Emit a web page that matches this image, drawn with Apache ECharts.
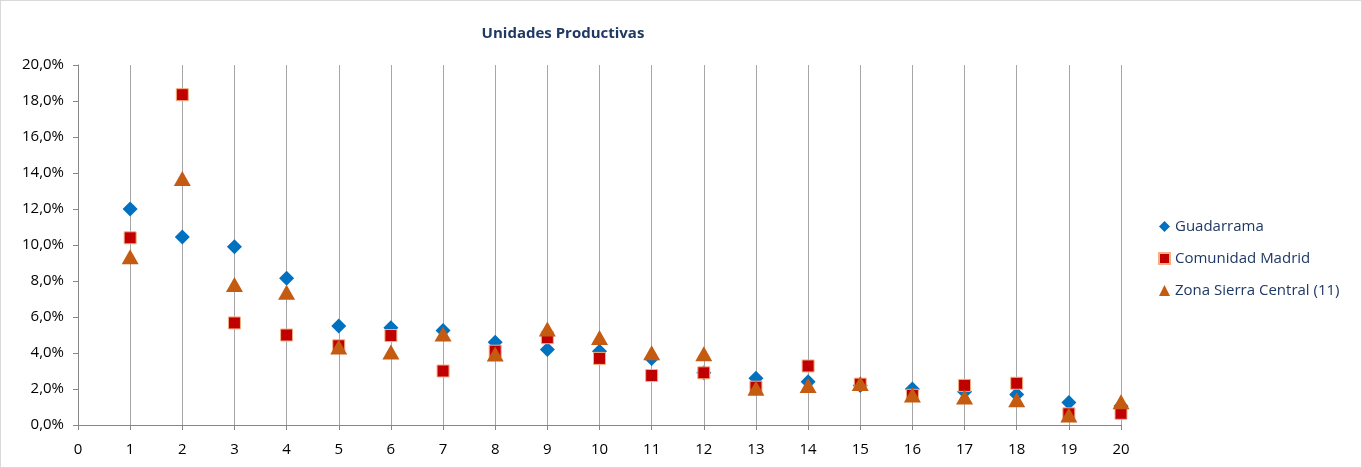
<!DOCTYPE html>
<html>
<head>
<meta charset="utf-8">
<script src="https://cdn.jsdelivr.net/npm/echarts@6/dist/echarts.min.js"></script>
<style>
html,body{margin:0;padding:0;background:#fff;}
#c{width:1362px;height:468px;box-sizing:border-box;border:1px solid #d9d9d9;}
</style>
</head>
<body>
<div id="c"></div>
<script>
const categories = [1,2,3,4,5,6,7,8,9,10,11,12,13,14,15,16,17,18,19,20];
const guadarrama = [12.0,10.45,9.9,8.15,5.5,5.4,5.25,4.6,4.2,4.1,3.7,2.9,2.6,2.4,2.2,2.0,1.85,1.7,1.25,1.05];
const comunidadMadrid = [10.4,18.35,5.67,5.0,4.4,4.97,3.0,4.1,4.85,3.7,2.75,2.9,2.1,3.28,2.27,1.65,2.2,2.32,0.62,0.65];
const zonaSierra = [9.35,13.7,7.8,7.37,4.33,4.05,5.06,3.94,5.34,4.86,4.01,3.96,2.04,2.2,2.3,1.66,1.55,1.4,0.55,1.29];
const seriesNames = ['Guadarrama','Comunidad Madrid','Zona Sierra Central (11)'];
const titleText = 'Unidades Productivas';

const toPts = arr => categories.map((c,i)=>[c, arr[i]/100]);
const font = '"Open Sans", "Noto Sans", sans-serif';

const chart = echarts.init(document.getElementById('c'));
chart.setOption({
  animation:false,
  title:{text:titleText,left:557,top:20,textAlign:'center',
    textStyle:{fontFamily:font,fontSize:15,fontWeight:'bold',color:'#1F3864'}},
  grid:{left:77,right:240,top:64,bottom:42,containLabel:false},
  legend:{orient:'vertical',left:1152,top:213,itemGap:17,itemWidth:11,itemHeight:11,
    textStyle:{fontFamily:font,fontSize:15,color:'#1F3864'},
    data:seriesNames},
  xAxis:{type:'value',min:0,max:20,interval:1,
    axisLine:{show:true,lineStyle:{color:'#868686',width:1}},
    axisTick:{show:true,length:5,lineStyle:{color:'#868686'}},
    axisLabel:{fontFamily:font,fontSize:15,color:'#000',margin:17},
    splitLine:{show:true,lineStyle:{color:'#A6A6A6',width:1}}},
  yAxis:{type:'value',min:0,max:0.2,interval:0.02,
    axisLine:{show:true,lineStyle:{color:'#868686',width:1}},
    axisTick:{show:true,length:5,lineStyle:{color:'#868686'}},
    axisLabel:{fontFamily:font,fontSize:15,color:'#000',margin:14,
      formatter:v=>(v*100).toFixed(1).replace('.',',')+'%'},
    splitLine:{show:false}},
  series:[
    {name:seriesNames[0],type:'scatter',symbol:'diamond',symbolSize:[15,15],
      itemStyle:{color:'#0070C0',opacity:1},data:toPts(guadarrama)},
    {name:seriesNames[1],type:'scatter',symbol:'rect',symbolSize:[12,12],
      itemStyle:{color:'#C00000',borderColor:'#F4B183',borderWidth:1,opacity:1},data:toPts(comunidadMadrid)},
    {name:seriesNames[2],type:'scatter',symbol:'triangle',symbolSize:[17,15],
      itemStyle:{color:'#C55A11',opacity:1},data:toPts(zonaSierra)}
  ]
});
</script>
</body>
</html>
